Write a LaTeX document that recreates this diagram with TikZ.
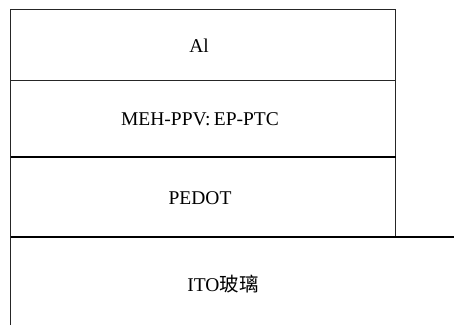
\documentclass[tikz,border=0pt]{standalone}
\usepackage{fontspec}
\setmainfont{Liberation Serif}
\newfontfamily\cjk{Noto Sans CJK SC}
\begin{document}
\begin{tikzpicture}[x=1bp,y=-1bp,
  layer/.style={line width=1bp,draw=black!85},
  thick layer/.style={line width=2bp,draw=black},
  lbl/.style={font=\fontsize{19.5bp}{22bp}\selectfont,inner sep=0pt}]
\useasboundingbox (0,0) rectangle (454,325);
\coordinate (tl) at (10.5,9.5);
\coordinate (tr) at (395.5,9.5);
\coordinate (bl) at (10.5,325);
\coordinate (m1l) at (10.5,80.5);
\coordinate (m1r) at (395.5,80.5);
\coordinate (m2l) at (10.5,157);
\coordinate (m2r) at (395.5,157);
\coordinate (m3l) at (10.5,237);
\coordinate (m3r) at (395.5,237);
\coordinate (m3e) at (454,237);
\draw[layer] (bl) -- (tl) -- (tr) -- (m3r);
\draw[layer] (m1l) -- (m1r);
\draw[thick layer] (m2l) -- (m2r);
\draw[thick layer] (m3l) -- (m3e);
\node[lbl] (al) at (199,46) {Al};
\node[lbl] (meh) at (200,119.5) {MEH-PPV:\,EP-PTC};
\node[lbl] (pedot) at (200,198) {PEDOT};
\node[lbl] (ito) at (223,284) {ITO{\cjk 玻璃}};
\end{tikzpicture}
\end{document}
